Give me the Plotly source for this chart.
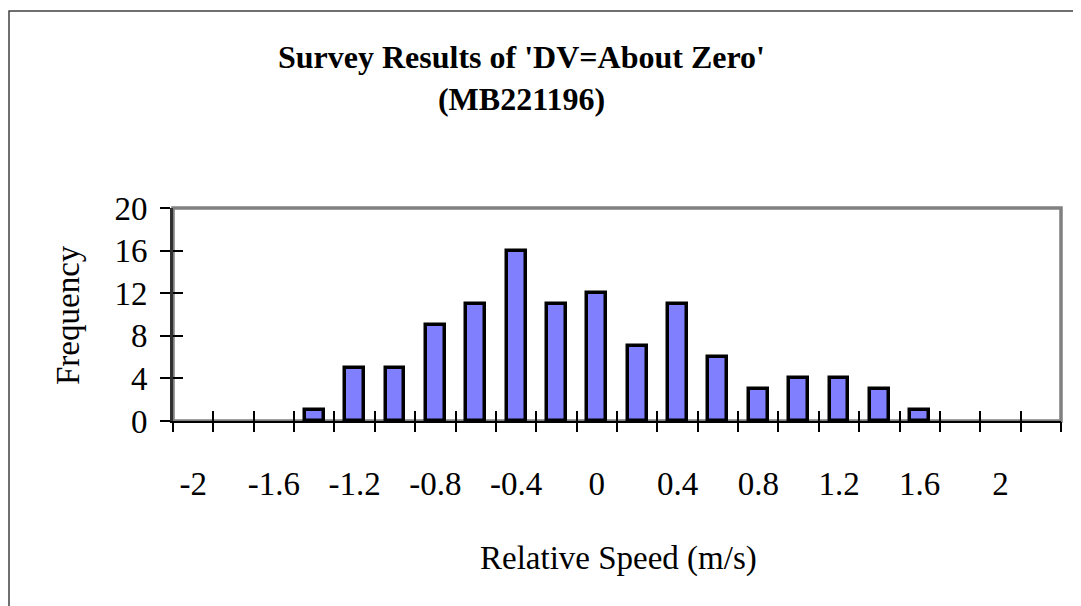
import plotly.graph_objects as go

# ---- data ----
speed_bins = [-2.0, -1.8, -1.6, -1.4, -1.2, -1.0, -0.8, -0.6, -0.4, -0.2, 0.0,
              0.2, 0.4, 0.6, 0.8, 1.0, 1.2, 1.4, 1.6, 1.8, 2.0, 2.2]
frequency = [0, 0, 0, 1, 5, 5, 9, 11, 16, 11, 12, 7, 11, 6, 3, 4, 4, 3, 1, 0, 0, 0]
x_tick_labels = [-2, -1.6, -1.2, -0.8, -0.4, 0, 0.4, 0.8, 1.2, 1.6, 2]
y_ticks = [0, 4, 8, 12, 16, 20]

title_text = "Survey Results of 'DV=About Zero'<br>(MB221196)"
x_title = "Relative Speed (m/s)"
y_title = "Frequency"

FONT = "Liberation Serif, Times New Roman, serif"
bin_w = 0.2
xs = [b for b, f in zip(speed_bins, frequency) if f > 0]
ys = [f for f in frequency if f > 0]
x_lo = speed_bins[0] - bin_w / 2
x_hi = speed_bins[-1] + bin_w / 2

fig = go.Figure()
fig.add_trace(go.Bar(
    x=xs, y=ys, width=bin_w * 0.47,
    marker=dict(color="#8080FF", line=dict(color="black", width=3.5)),
    showlegend=False, hoverinfo="x+y",
))
# helper invisible traces so overlay axes render
for xa, ya in [("x2", "y"), ("x3", "y"), ("x", "y2")]:
    fig.add_trace(go.Scatter(x=[0], y=[0], xaxis=xa, yaxis=ya, mode="markers",
                             marker=dict(opacity=0), showlegend=False, hoverinfo="skip"))

OFF = 8  # page body margin
W, H = 1081 - OFF, 606 - OFF
L, T = 173 - OFF, 208 - OFF
R = W - (1061 - OFF)
B = H - (421 - OFF)
pw, ph = W - L - R, H - T - B

def px(xp):  # page pixel x -> paper
    return (xp - OFF - L) / pw

def py(yp):  # page pixel y -> paper
    return (H - B - (yp - OFF)) / ph

fig.update_layout(
    width=W, height=H,
    margin=dict(l=L, r=R, t=T, b=B),
    paper_bgcolor="white", plot_bgcolor="white",
    font=dict(family=FONT, color="black", size=33),
    bargap=0,
    xaxis=dict(range=[x_lo, x_hi], tickmode="array", tickvals=x_tick_labels,
               ticktext=[f"{v:g}" for v in x_tick_labels],
               ticks="", showgrid=False, zeroline=False,
               showline=True, linecolor="black", linewidth=2,
               ticklabelstandoff=32, tickfont=dict(size=33)),
    xaxis2=dict(overlaying="x", anchor="y", range=[x_lo, x_hi], tickmode="linear",
                tick0=x_lo, dtick=bin_w, ticks="outside", ticklen=10, tickwidth=1.5,
                tickcolor="black", showticklabels=False, showgrid=False,
                zeroline=False, showline=False),
    xaxis3=dict(overlaying="x", anchor="y", range=[x_lo, x_hi], tickmode="linear",
                tick0=x_lo, dtick=bin_w, ticks="inside", ticklen=10, tickwidth=1.5,
                tickcolor="black", showticklabels=False, showgrid=False,
                zeroline=False, showline=False),
    yaxis=dict(range=[0, 20], tickmode="array", tickvals=y_ticks,
               ticks="outside", ticklen=10, tickwidth=1.5, tickcolor="black",
               showgrid=False, zeroline=False, showline=True,
               linecolor="#303030", linewidth=3, ticklabelstandoff=6,
               tickfont=dict(size=33)),
    yaxis2=dict(overlaying="y", anchor="x", range=[0, 20], tickmode="array",
                tickvals=y_ticks, ticks="inside", ticklen=10, tickwidth=1.5,
                tickcolor="black", showticklabels=False, showgrid=False,
                zeroline=False, showline=False),
    shapes=[
        dict(type="rect", xref="paper", yref="paper", x0=0, x1=1, y0=0, y1=1,
             line=dict(color="#808080", width=3.5), layer="below"),
        dict(type="rect", xref="paper", yref="paper", x0=px(9), x1=px(1090),
             y0=py(620), y1=py(11), line=dict(color="#404040", width=1.5),
             layer="below"),
    ],
    annotations=[
        dict(text=f"<b>{title_text}</b>", xref="paper", yref="paper",
             x=px(521), y=py(78), xanchor="center", yanchor="middle",
             showarrow=False, font=dict(size=32, family=FONT)),
        dict(text=x_title, xref="paper", yref="paper", x=px(618), y=py(558),
             xanchor="center", yanchor="middle", showarrow=False,
             font=dict(size=33, family=FONT)),
        dict(text=y_title, xref="paper", yref="paper", x=px(68), y=py(315),
             xanchor="center", yanchor="middle", textangle=-90, showarrow=False,
             font=dict(size=33, family=FONT)),
    ],
)

fig.write_html("out.html")
